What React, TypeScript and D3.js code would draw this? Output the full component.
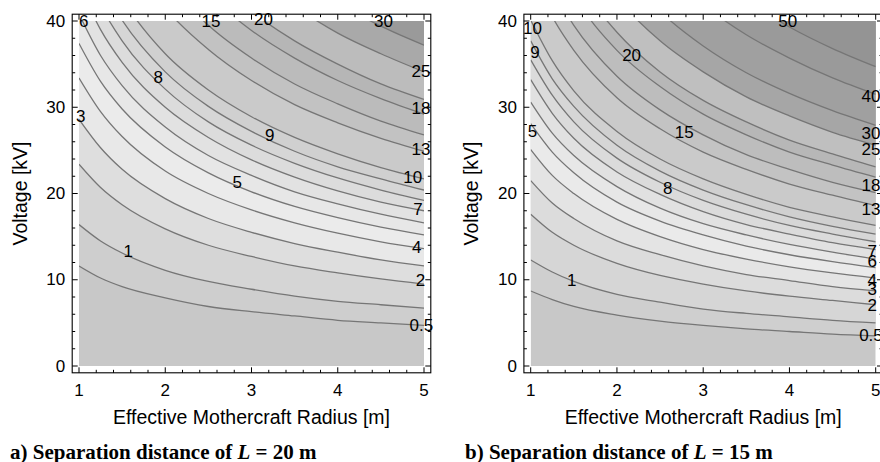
import React from "react";
import * as d3 from "d3";

// ---------- data ----------
const radiusGrid = [1, 1.25, 1.5, 2, 2.5, 3, 3.5, 4, 4.5, 5];

const levelsA = [0.5, 1, 2, 3, 4, 5, 6, 7, 8, 9, 10, 13, 15, 18, 20, 25, 30];
// voltage [kV] of each contour at the radii of radiusGrid (values above 40 are off-plot estimates)
const voltsA = [
  [11.6, 10.2, 9.2, 7.9, 6.9, 6.3, 5.8, 5.3, 5.0, 4.7],
  [16.4, 14.5, 13.1, 11.1, 9.8, 8.9, 8.1, 7.5, 7.1, 6.7],
  [23.4, 20.7, 18.7, 15.9, 14.0, 12.7, 11.6, 10.8, 10.1, 9.5],
  [28.6, 25.3, 22.8, 19.4, 17.1, 15.5, 14.2, 13.2, 12.3, 11.6],
  [33.4, 29.5, 26.6, 22.6, 20.0, 18.1, 16.6, 15.4, 14.4, 13.6],
  [37.4, 33.0, 29.8, 25.4, 22.4, 20.2, 18.5, 17.2, 16.1, 15.2],
  [40.8, 36.0, 32.5, 27.7, 24.4, 22.1, 20.2, 18.8, 17.6, 16.6],
  [44.2, 39.0, 35.2, 30.0, 26.5, 23.9, 21.9, 20.3, 19.0, 18.0],
  [47.3, 41.8, 37.7, 32.1, 28.3, 25.6, 23.5, 21.8, 20.4, 19.2],
  [50.3, 44.4, 40.1, 34.1, 30.1, 27.2, 24.9, 23.1, 21.7, 20.4],
  [53.4, 47.2, 42.6, 36.2, 32.0, 28.9, 26.5, 24.6, 23.0, 21.7],
  [61.2, 54.0, 48.8, 41.5, 36.7, 33.1, 30.3, 28.2, 26.4, 24.9],
  [66.0, 58.3, 52.6, 44.8, 39.5, 35.7, 32.7, 30.4, 28.4, 26.8],
  [72.0, 63.6, 57.4, 48.8, 43.1, 38.9, 35.7, 33.1, 31.0, 29.2],
  [76.0, 67.1, 60.6, 51.5, 45.5, 41.1, 37.7, 35.0, 32.7, 30.9],
  [84.0, 74.2, 67.0, 57.0, 50.3, 45.4, 41.7, 38.6, 36.2, 34.1],
  [91.5, 80.8, 72.9, 62.0, 54.8, 49.5, 45.4, 42.1, 39.4, 37.2],
];

const levelsB = [0.5, 1, 2, 3, 4, 5, 6, 7, 8, 9, 10, 13, 15, 18, 20, 25, 30, 40, 50];
const voltsB = [
  [8.7, 7.7, 6.9, 5.9, 5.2, 4.7, 4.3, 4.0, 3.7, 3.5],
  [12.3, 10.9, 9.8, 8.3, 7.4, 6.6, 6.1, 5.7, 5.3, 5.0],
  [17.6, 15.5, 14.0, 11.9, 10.5, 9.5, 8.7, 8.1, 7.6, 7.1],
  [21.5, 18.9, 17.1, 14.5, 12.9, 11.6, 10.6, 9.9, 9.2, 8.7],
  [25.1, 22.1, 20.0, 17.0, 15.0, 13.5, 12.4, 11.5, 10.8, 10.2],
  [28.1, 24.8, 22.4, 19.0, 16.8, 15.2, 13.9, 12.9, 12.1, 11.4],
  [30.6, 27.0, 24.4, 20.8, 18.3, 16.5, 15.2, 14.1, 13.2, 12.4],
  [33.2, 29.3, 26.4, 22.5, 19.9, 17.9, 16.4, 15.3, 14.3, 13.5],
  [35.5, 31.4, 28.3, 24.1, 21.3, 19.2, 17.6, 16.3, 15.3, 14.4],
  [37.7, 33.3, 30.1, 25.6, 22.6, 20.4, 18.7, 17.3, 16.2, 15.3],
  [40.1, 35.4, 31.9, 27.2, 24.0, 21.7, 19.9, 18.4, 17.3, 16.3],
  [45.9, 40.5, 36.6, 31.1, 27.5, 24.8, 22.8, 21.1, 19.8, 18.6],
  [49.5, 43.7, 39.5, 33.6, 29.7, 26.8, 24.5, 22.8, 21.3, 20.1],
  [54.0, 47.7, 43.0, 36.6, 32.4, 29.2, 26.8, 24.8, 23.3, 21.9],
  [57.0, 50.3, 45.4, 38.7, 34.1, 30.8, 28.3, 26.2, 24.6, 23.1],
  [63.0, 55.6, 50.2, 42.7, 37.7, 34.1, 31.2, 29.0, 27.1, 25.6],
  [68.6, 60.6, 54.7, 46.5, 41.1, 37.1, 34.0, 31.6, 29.6, 27.9],
  [77.5, 68.4, 61.8, 52.6, 46.4, 41.9, 38.4, 35.7, 33.4, 31.5],
  [85.5, 75.5, 68.1, 58.0, 51.2, 46.2, 42.4, 39.3, 36.8, 34.7],
];

// contour labels: [text, radius, voltage]
const labelsA: [string, number, number][] = [
  ["6", 1.055, 39.9], ["15", 2.53, 39.9], ["20", 3.14, 40.2], ["30", 4.53, 40.0],
  ["8", 1.92, 33.5], ["3", 1.02, 28.9], ["9", 3.21, 26.7], ["5", 2.835, 21.25],
  ["1", 1.57, 13.25], ["25", 4.965, 34.2], ["18", 4.965, 29.9], ["13", 4.965, 25.1],
  ["10", 4.87, 21.8], ["7", 4.93, 18.1], ["4", 4.915, 13.7], ["2", 4.96, 9.9],
  ["0.5", 4.97, 4.75],
];
const labelsB: [string, number, number][] = [
  ["10", 1.02, 39.1], ["9", 1.05, 36.3], ["20", 2.17, 36.0], ["50", 3.98, 39.9],
  ["40", 4.945, 31.3], ["5", 1.02, 27.2], ["15", 2.78, 27.1], ["30", 4.945, 27.0],
  ["25", 4.945, 25.1], ["8", 2.59, 20.55], ["18", 4.945, 20.9], ["13", 4.945, 18.1],
  ["7", 4.96, 13.3], ["6", 4.96, 12.1], ["4", 4.96, 9.95], ["3", 4.96, 8.85],
  ["2", 4.96, 7.0], ["0.5", 4.945, 3.55], ["1", 1.475, 9.9],
];

const xTickValues = [1, 2, 3, 4, 5];
const yTickValues = [0, 10, 20, 30, 40];

const captionA = ["a) Separation distance of ", "L", " = 20 m"];
const captionB = ["b) Separation distance of ", "L", " = 15 m"];

// ---------- styles ----------
const shadesA = [
  "#c8c8c8", "#cecece", "#d5d5d5", "#dedede", "#e8e8e8", "#ebebeb", "#e7e7e7",
  "#e2e2e2", "#dcdcdc", "#d6d6d6", "#d0d0d0", "#cacaca", "#c2c2c2", "#bbbbbb",
  "#b6b6b6", "#bcbcbc", "#a9a9a9", "#9a9a9a",
];
const shadesB = [
  "#c8c8c8", "#cfcfcf", "#d6d6d6", "#dcdcdc", "#e4e4e4", "#eaeaea", "#e7e7e7",
  "#e1e1e1", "#dbdbdb", "#d6d6d6", "#d0d0d0", "#cacaca", "#c3c3c3", "#bdbdbd",
  "#b7b7b7", "#bfbfbf", "#a6a6a6", "#a0a0a0", "#9a9a9a", "#949494",
];

const SANS = "'Liberation Sans', Arial, Helvetica, sans-serif";
const SERIF = "'Liberation Serif', 'Times New Roman', serif";

type PanelProps = {
  id: string;
  left: number;
  levels: number[];
  volts: number[][];
  labels: [string, number, number][];
  shades: string[];
  caption: string[];
  captionX: number;
  yTitleX: number;
};

function ContourPanel({ id, left, volts, labels, shades, caption, captionX, yTitleX }: PanelProps) {
  const x = d3.scaleLinear().domain([1, 5]).range([left, left + 345]);
  const y = d3.scaleLinear().domain([0, 40]).range([366, 21]);
  const pad = 6.8;
  const fx0 = x(1) - pad, fx1 = x(5) + pad, fy0 = y(40) - pad, fy1 = y(0) + pad;

  const area = d3
    .area<[number, number]>()
    .x((d) => x(d[0]))
    .y0(y(200))
    .y1((d) => y(d[1]))
    .curve(d3.curveMonotoneX);
  const line = d3
    .line<[number, number]>()
    .x((d) => x(d[0]))
    .y((d) => y(d[1]))
    .curve(d3.curveMonotoneX);

  const rows = volts.map((row) => row.map((v, i) => [radiusGrid[i], v] as [number, number]));

  const xMinor = d3.range(1, 5.0001, 0.2).filter((v) => Math.abs(v - Math.round(v)) > 1e-6);
  const yMinor = d3.range(0, 40.0001, 2).filter((v) => Math.round(v) % 10 !== 0);
  const major = 5.5, minor = 3;

  return (
    <g>
      <defs>
        <clipPath id={id}>
          <rect x={x(1)} y={y(40)} width={x(5) - x(1)} height={y(0) - y(40)} />
        </clipPath>
      </defs>
      <g clipPath={`url(#${id})`}>
        <rect x={x(1)} y={y(40)} width={x(5) - x(1)} height={y(0) - y(40)} fill={shades[0]} />
        {rows.map((r, k) => (
          <path key={"f" + k} d={area(r) || ""} fill={shades[k + 1]} stroke="none" />
        ))}
        {rows.map((r, k) => (
          <path key={"l" + k} d={line(r) || ""} fill="none" stroke="#767676" strokeWidth={1.3} />
        ))}
      </g>
      {labels.map(([t, r, v], i) => (
        <text key={"t" + i} x={x(r)} y={y(v)} textAnchor="middle" dominantBaseline="central"
          fontFamily={SANS} fontSize={17} fill="#000">{t}</text>
      ))}
      {/* frame */}
      <rect x={fx0} y={fy0} width={fx1 - fx0} height={fy1 - fy0} fill="none" stroke="#000" strokeWidth={1.1} />
      {xTickValues.map((v) => (
        <g key={"xt" + v}>
          <line x1={x(v)} x2={x(v)} y1={fy1} y2={fy1 - major} stroke="#000" />
          <line x1={x(v)} x2={x(v)} y1={fy0} y2={fy0 + major} stroke="#000" />
          <text x={x(v)} y={396} textAnchor="middle" fontFamily={SANS} fontSize={17}>{v}</text>
        </g>
      ))}
      {xMinor.map((v, i) => (
        <g key={"xm" + i}>
          <line x1={x(v)} x2={x(v)} y1={fy1} y2={fy1 - minor} stroke="#000" />
          <line x1={x(v)} x2={x(v)} y1={fy0} y2={fy0 + minor} stroke="#000" />
        </g>
      ))}
      {yTickValues.map((v) => (
        <g key={"yt" + v}>
          <line x1={fx0} x2={fx0 + major} y1={y(v)} y2={y(v)} stroke="#000" />
          <line x1={fx1} x2={fx1 - major} y1={y(v)} y2={y(v)} stroke="#000" />
          <text x={fx0 - 7} y={y(v)} textAnchor="end" dominantBaseline="central" fontFamily={SANS} fontSize={17}>{v}</text>
        </g>
      ))}
      {yMinor.map((v, i) => (
        <g key={"ym" + i}>
          <line x1={fx0} x2={fx0 + minor} y1={y(v)} y2={y(v)} stroke="#000" />
          <line x1={fx1} x2={fx1 - minor} y1={y(v)} y2={y(v)} stroke="#000" />
        </g>
      ))}
      <text x={(x(1) + x(5)) / 2} y={424} textAnchor="middle" fontFamily={SANS} fontSize={19.5}>
        Effective Mothercraft Radius [m]
      </text>
      <text transform={`translate(${yTitleX},${(y(0) + y(40)) / 2}) rotate(-90)`} textAnchor="middle"
        fontFamily={SANS} fontSize={19.5}>Voltage [kV]</text>
      <text x={captionX} y={458.5} fontFamily={SERIF} fontWeight="bold" fontSize={21}>
        {caption[0]}
        <tspan fontStyle="italic">{caption[1]}</tspan>
        {caption[2]}
      </text>
    </g>
  );
}

export default function App() {
  return (
    <svg width={880} height={462} style={{ position: "absolute", left: 0, top: 0, background: "#fff" }}>
      <rect width={880} height={462} fill="#fff" />
      <ContourPanel id="clipA" left={79} levels={levelsA} volts={voltsA} labels={labelsA}
        shades={shadesA} caption={captionA} captionX={10} yTitleX={27} />
      <ContourPanel id="clipB" left={530.7} levels={levelsB} volts={voltsB} labels={labelsB}
        shades={shadesB} caption={captionB} captionX={465} yTitleX={478} />
    </svg>
  );
}
